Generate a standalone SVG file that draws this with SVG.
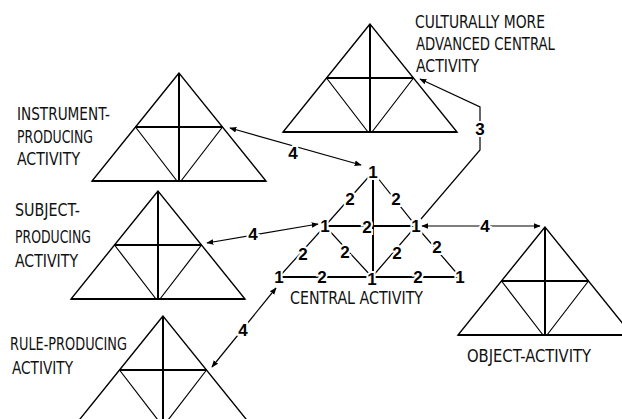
<svg xmlns="http://www.w3.org/2000/svg" width="622" height="419" viewBox="0 0 622 419">
<style>
.bg{fill:#fff}
.tri{fill:none;stroke:#000;stroke-width:1.4}
.thick{stroke:#000;stroke-width:2;fill:none}
.thin{stroke:#000;stroke-width:1.2;fill:none}
.lbl{font-family:"DejaVu Sans Condensed","Liberation Sans",sans-serif;font-size:17px;fill:#111}
.num{font-family:"Liberation Sans",sans-serif;font-weight:bold;font-size:17px;fill:#000;stroke:#fff;stroke-width:4;paint-order:stroke;text-anchor:middle;dominant-baseline:central}
.conn{stroke:#000;stroke-width:1.2;fill:none}
</style>
<defs>
<marker id="ah" viewBox="0 0 10 10" refX="9" refY="5" markerWidth="7" markerHeight="7" orient="auto-start-reverse" markerUnits="userSpaceOnUse">
<path d="M0,1 L10,5 L0,9 z" fill="#000"/>
</marker>
<g id="tri">
<path class="tri" d="M0,0 L-87,108 L87,108 Z"/>
<path class="thick" d="M-87,108 L87,108 M0,0 L0,108 M-43.5,54 L43.5,54"/>
<path class="thin" d="M-43.5,54 L-2,108 M43.5,54 L2,108"/>
</g>
</defs>
<rect class="bg" width="622" height="419"/>

<g id="instrument">
<use href="#tri" x="179" y="73"/>
<text class="lbl" x="17" y="120" textLength="93" lengthAdjust="spacingAndGlyphs">INSTRUMENT-</text>
<text class="lbl" x="17" y="143" textLength="76" lengthAdjust="spacingAndGlyphs">PRODUCING</text>
<text class="lbl" x="17" y="165" textLength="63" lengthAdjust="spacingAndGlyphs">ACTIVITY</text>
</g>

<g id="cultural">
<use href="#tri" x="370" y="24"/>
<text class="lbl" x="415" y="28" textLength="130" lengthAdjust="spacingAndGlyphs">CULTURALLY MORE</text>
<text class="lbl" x="416" y="50" textLength="139" lengthAdjust="spacingAndGlyphs">ADVANCED CENTRAL</text>
<text class="lbl" x="416" y="72" textLength="63" lengthAdjust="spacingAndGlyphs">ACTIVITY</text>
</g>

<g id="subject">
<use href="#tri" x="158" y="191"/>
<text class="lbl" x="15" y="216" textLength="65" lengthAdjust="spacingAndGlyphs">SUBJECT-</text>
<text class="lbl" x="15" y="243" textLength="76" lengthAdjust="spacingAndGlyphs">PRODUCING</text>
<text class="lbl" x="15" y="267" textLength="63" lengthAdjust="spacingAndGlyphs">ACTIVITY</text>
</g>

<g id="rule">
<use href="#tri" x="163" y="316"/>
<text class="lbl" x="10" y="350" textLength="117" lengthAdjust="spacingAndGlyphs">RULE-PRODUCING</text>
<text class="lbl" x="12" y="374" textLength="61" lengthAdjust="spacingAndGlyphs">ACTIVITY</text>
</g>

<g id="object">
<use href="#tri" x="545" y="227"/>
<text class="lbl" x="467" y="362" textLength="124" lengthAdjust="spacingAndGlyphs">OBJECT-ACTIVITY</text>
</g>

<g id="central">
<path class="thick" d="M373,176 L373,273 M325,226 L416,226 M281,277 L460,277" stroke-width="1.6"/>
<path class="thin" d="M373,172 L325,226 L279,277 M373,172 L416,226 L460,277 M325,226 L372,277 L416,226" stroke="#333"/>
<text class="num" x="350" y="199">2</text>
<text class="num" x="396" y="199">2</text>
<text class="num" x="367" y="227">2</text>
<text class="num" x="303" y="254">2</text>
<text class="num" x="345" y="252">2</text>
<text class="num" x="397" y="253">2</text>
<text class="num" x="437" y="247">2</text>
<text class="num" x="322" y="277">2</text>
<text class="num" x="418" y="277">2</text>
<text class="num" x="373" y="172">1</text>
<text class="num" x="325" y="226">1</text>
<text class="num" x="416" y="226">1</text>
<text class="num" x="279" y="277">1</text>
<text class="num" x="372" y="279">1</text>
<text class="num" x="460" y="277">1</text>
<text class="lbl" x="290" y="304" textLength="133" lengthAdjust="spacingAndGlyphs">CENTRAL ACTIVITY</text>
</g>

<g id="connectors">
<line class="conn" x1="230" y1="128" x2="361" y2="165" marker-start="url(#ah)" marker-end="url(#ah)"/>
<line class="conn" x1="207" y1="243" x2="318" y2="224" marker-start="url(#ah)" marker-end="url(#ah)"/>
<line class="conn" x1="212" y1="367" x2="276" y2="288" marker-start="url(#ah)" marker-end="url(#ah)"/>
<line class="conn" x1="422" y1="226" x2="540" y2="226" marker-start="url(#ah)" marker-end="url(#ah)"/>
<polyline class="conn" points="421,219 480,150 480,107 420,79" marker-end="url(#ah)"/>
<text class="num" x="293" y="153">4</text>
<text class="num" x="253" y="234">4</text>
<text class="num" x="243" y="330">4</text>
<text class="num" x="485" y="226">4</text>
<text class="num" x="480" y="129">3</text>
</g>
</svg>
